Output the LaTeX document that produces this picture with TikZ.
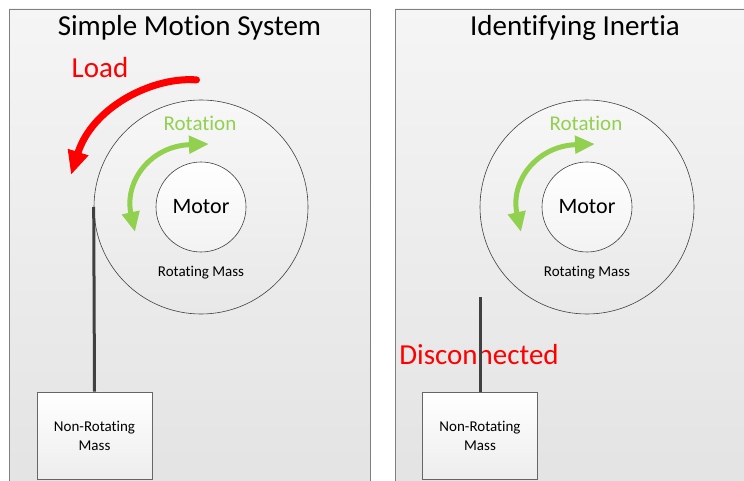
\documentclass[tikz,border=0pt]{standalone}
\usepackage{fontspec}
\setmainfont{Carlito}[Ligatures=NoCommon]
\usetikzlibrary{arrows.meta, positioning}
\definecolor{rotgreen}{HTML}{92D050}
\definecolor{panelline}{HTML}{7F7F7F}

\begin{document}
\begin{tikzpicture}[
x=1pt, y=-1pt,
every node/.style={font=\fontsize{15}{19}\selectfont},
panelbox/.style={draw=panelline, line width=0.8pt, top color=black!4, bottom color=black!11},
titlenode/.style={font=\fontsize{29}{33}\selectfont},
massnode/.style={circle, draw=black!75, line width=0.6pt, minimum size=214pt, inner sep=0pt,
top color=black!3, bottom color=black!9},
motornode/.style={circle, draw=black!75, line width=0.6pt, minimum size=90pt, inner sep=0pt,
top color=white, bottom color=black!5, font=\fontsize{22}{26}\selectfont},
boxnode/.style={rectangle, draw=black!60, line width=0.6pt, minimum width=115pt, minimum height=87pt,
align=center, inner sep=2pt, top color=white, bottom color=black!7},
rotlabel/.style={text=rotgreen, font=\fontsize{21}{25}\selectfont},
redlabel/.style={text=red, font=\fontsize{29}{33}\selectfont},
linkline/.style={draw=black!75, line width=3pt},
rotarrow/.style={{Triangle[length=20pt, width=17pt]}-{Triangle[length=20pt, width=17pt]}, rotgreen, line width=5pt},
loadarrow/.style={{Round Cap[]}-{Triangle[length=24pt, width=20pt]}, red, line width=7pt}
]
\useasboundingbox (0,0) rectangle (744,481);
\clip (0,0) rectangle (744,481);

% panels
\draw[panelbox] (9,9) rectangle (370,495);
\draw[panelbox] (395,9) rectangle (760,495);

\node[titlenode] (title1) at (189.5,28) {Simple Motion System};
\node[titlenode] (title2) at (575,28) {Identifying Inertia};

% left: simple motion system
\node[massnode] (mass1) at (201,207) {};
\node[motornode] (motor1) at (201,207) {Motor};
\node (masslbl1) at (201,273) {Rotating Mass};
\node[rotlabel] (rot1) at (200,123) {Rotation};
\node[boxnode] (nrm1) at (94.5,435.5) {Non-Rotating\\Mass};
\node[redlabel] (load) at (100,68) {Load};

\coordinate (rotA1) at (135,232);
\coordinate (rotB1) at (209,144);
\draw[rotarrow] (rotA1) .. controls (124,182) and (150,146) .. (rotB1);

\coordinate (loadA) at (200,80);
\coordinate (loadB) at (71,175);
\draw[loadarrow] (loadA) .. controls (150,78) and (92,108) .. (loadB);

\draw[linkline] (mass1.west) -- (nrm1.north);

% right: identifying inertia
\node[massnode] (mass2) at (587,207) {};
\node[motornode] (motor2) at (587,207) {Motor};
\node (masslbl2) at (587,273) {Rotating Mass};
\node[rotlabel] (rot2) at (586,123) {Rotation};
\node[boxnode] (nrm2) at (480,435.5) {Non-Rotating\\Mass};
\node[redlabel] (disc) at (479,355) {Disconnected};

\coordinate (rotA2) at (521,232);
\coordinate (rotB2) at (595,144);
\draw[rotarrow] (rotA2) .. controls (510,182) and (536,146) .. (rotB2);

\coordinate (cut) at (480,297);
\draw[linkline] (cut) -- (nrm2.north);

\end{tikzpicture}
\end{document}
